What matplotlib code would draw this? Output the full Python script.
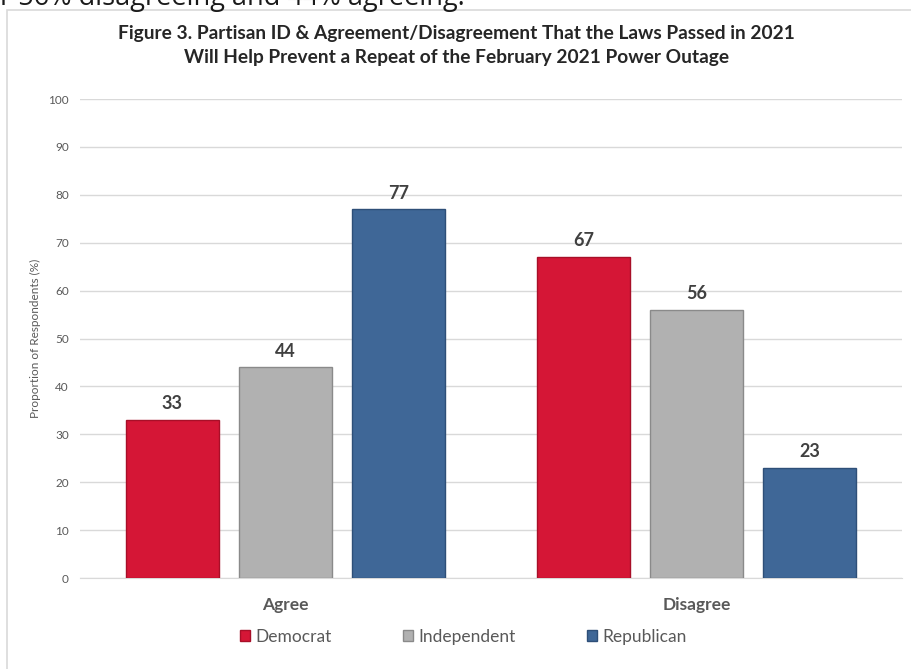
import numpy as np
import matplotlib.pyplot as plt

categories = ["Agree", "Disagree"]
parties = ["Democrat", "Independent", "Republican"]
democrat = [33, 67]
independent = [44, 56]
republican = [77, 23]
colors = ["#D51636", "#B1B1B1", "#3F6797"]
edges = ["#A80F28", "#8A8A8A", "#2E4F78"]

plt.rcParams['font.family'] = ['Lato', 'DejaVu Sans']

fig = plt.figure(figsize=(9.12, 6.69), dpi=100)
ax = fig.add_axes([0.0877, 0.136, 0.9013, 0.716])

# clipped line of the surrounding document text
fig.text(0.0, 1 - 5 / 669, "r 56% disagreeing and 44% agreeing.", fontsize=19.5,
         family="Open Sans", color="#1a1a1a", va="baseline", ha="left")

# chart frame
frame = plt.Rectangle((0.0077, -0.05), 1.2, 1.035, transform=fig.transFigure,
                      fill=False, edgecolor="#D9D9D9", linewidth=1.2)
fig.add_artist(frame)

x = np.arange(len(categories))
width = 0.226
step = 0.275
series = [democrat, independent, republican]
for i, vals in enumerate(series):
    pos = x + (i - 1) * step
    bars = ax.bar(pos, vals, width, color=colors[i], edgecolor=edges[i],
                  linewidth=1.0, label=parties[i], zorder=3)
    for b, v in zip(bars, vals):
        ax.text(b.get_x() + b.get_width() / 2, v + 1.6, str(v), ha="center",
                va="bottom", fontsize=13, fontweight="bold", color="#404040")

ax.set_xlim(-0.5, 1.5)
ax.set_ylim(0, 100)
ax.set_yticks(np.arange(0, 101, 10))
ax.yaxis.grid(True, color="#D9D9D9", linewidth=1.0, zorder=0)
ax.set_axisbelow(True)
for s in ["top", "right", "left"]:
    ax.spines[s].set_visible(False)
ax.spines["bottom"].set_color("#D9D9D9")
ax.tick_params(axis="y", length=0, labelsize=8.5, labelcolor="#595959", pad=8)
ax.tick_params(axis="x", length=0, labelsize=12.5, labelcolor="#595959", pad=14)
ax.set_xticks(x)
ax.set_xticklabels(categories, fontweight="bold")
ax.set_ylabel("Proportion of Respondents (%)", fontsize=8.5, color="#595959", labelpad=5)

fig.text(0.501, 0.932, "Figure 3. Partisan ID & Agreement/Disagreement That the Laws Passed in 2021\n"
         "Will Help Prevent a Repeat of the February 2021 Power Outage",
         ha="center", va="center", fontsize=13.8, fontweight="bold", color="#262626",
         linespacing=1.55)

leg = fig.legend(loc="center", bbox_to_anchor=(0.508, 0.048), ncol=3, frameon=False,
                 fontsize=12.5, handlelength=0.6, handleheight=0.6, handletextpad=0.3,
                 columnspacing=4.1)
for t in leg.get_texts():
    t.set_color("#595959")

fig.savefig("out.png", dpi=100)
